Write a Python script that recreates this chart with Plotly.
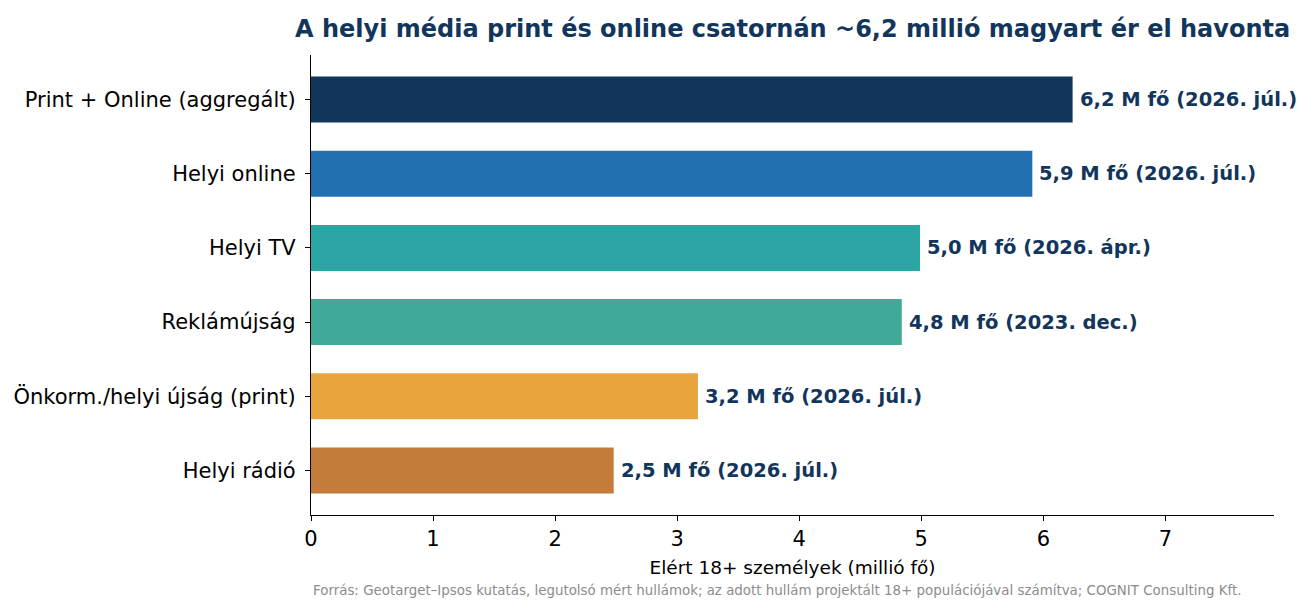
import plotly.graph_objects as go

categories = ["Print + Online (aggregált)", "Helyi online", "Helyi TV", "Reklámújság",
              "Önkorm./helyi újság (print)", "Helyi rádió"]
values = [6.24, 5.91, 4.99, 4.84, 3.17, 2.48]
labels = ["6,2 M fő (2026. júl.)", "5,9 M fő (2026. júl.)", "5,0 M fő (2026. ápr.)",
          "4,8 M fő (2023. dec.)", "3,2 M fő (2026. júl.)", "2,5 M fő (2026. júl.)"]
colors = ["#12355B", "#2270B1", "#2CA5A5", "#40A997", "#E8A43D", "#C47C3A"]
tick_vals = [0, 1, 2, 3, 4, 5, 6, 7]

title = "A helyi média print és online csatornán ~6,2 millió magyart ér el havonta"
xtitle = "Elért 18+ személyek (millió fő)"
source = ("Forrás: Geotarget–Ipsos kutatás, legutolsó mért hullámok; az adott hullám projektált "
          "18+ populációjával számítva; COGNIT Consulting Kft.")

font = "DejaVu Sans"

fig = go.Figure(go.Bar(
    x=values, y=categories, orientation="h",
    marker=dict(color=colors, line=dict(width=0)),
    width=0.62, hoverinfo="skip",
))

annotations = []
for v, c, t in zip(values, categories, labels):
    annotations.append(dict(x=v, y=c, xref="x", yref="y", text=f"<b>{t}</b>",
                            showarrow=False, xanchor="left", yanchor="middle", xshift=5,
                            font=dict(family=font, size=19.5, color="#12355B")))
annotations.append(dict(x=0, y=-0.165, xref="paper", yref="paper", text=source,
                        showarrow=False, xanchor="left", yanchor="middle",
                        font=dict(family=font, size=13.4, color="#8C8C8C")))
annotations.append(dict(x=0.5, y=1.0, xref="paper", yref="paper", text=f"<b>{title}</b>",
                        showarrow=False, xanchor="center", yanchor="bottom", yshift=10,
                        font=dict(family=font, size=24, color="#12355B")))

fig.update_layout(
    width=1307, height=603,
    margin=dict(l=303, r=41, t=47, b=96, autoexpand=False),
    paper_bgcolor="white", plot_bgcolor="white",
    showlegend=False,
    font=dict(family=font, color="black"),
    annotations=annotations,
    xaxis=dict(range=[0, 7.89], tickvals=tick_vals, ticktext=[str(t) for t in tick_vals],
               showgrid=False, zeroline=False, showline=True, linecolor="black", linewidth=1.2,
               ticks="outside", ticklen=5, tickcolor="black", tickwidth=1.2, automargin=False,
               tickfont=dict(family=font, size=21, color="black"),
               title=dict(text=xtitle, font=dict(family=font, size=18.5, color="black"), standoff=10)),
    yaxis=dict(categoryorder="array", categoryarray=categories, autorange=False,
               range=[5.6, -0.6], showgrid=False, zeroline=False, showline=True,
               linecolor="black", linewidth=1.2, ticks="outside", ticklen=5, automargin=False,
               tickcolor="black", tickwidth=1.2, ticklabelstandoff=5,
               tickfont=dict(family=font, size=21, color="black")),
)

fig.write_html("out.html")
